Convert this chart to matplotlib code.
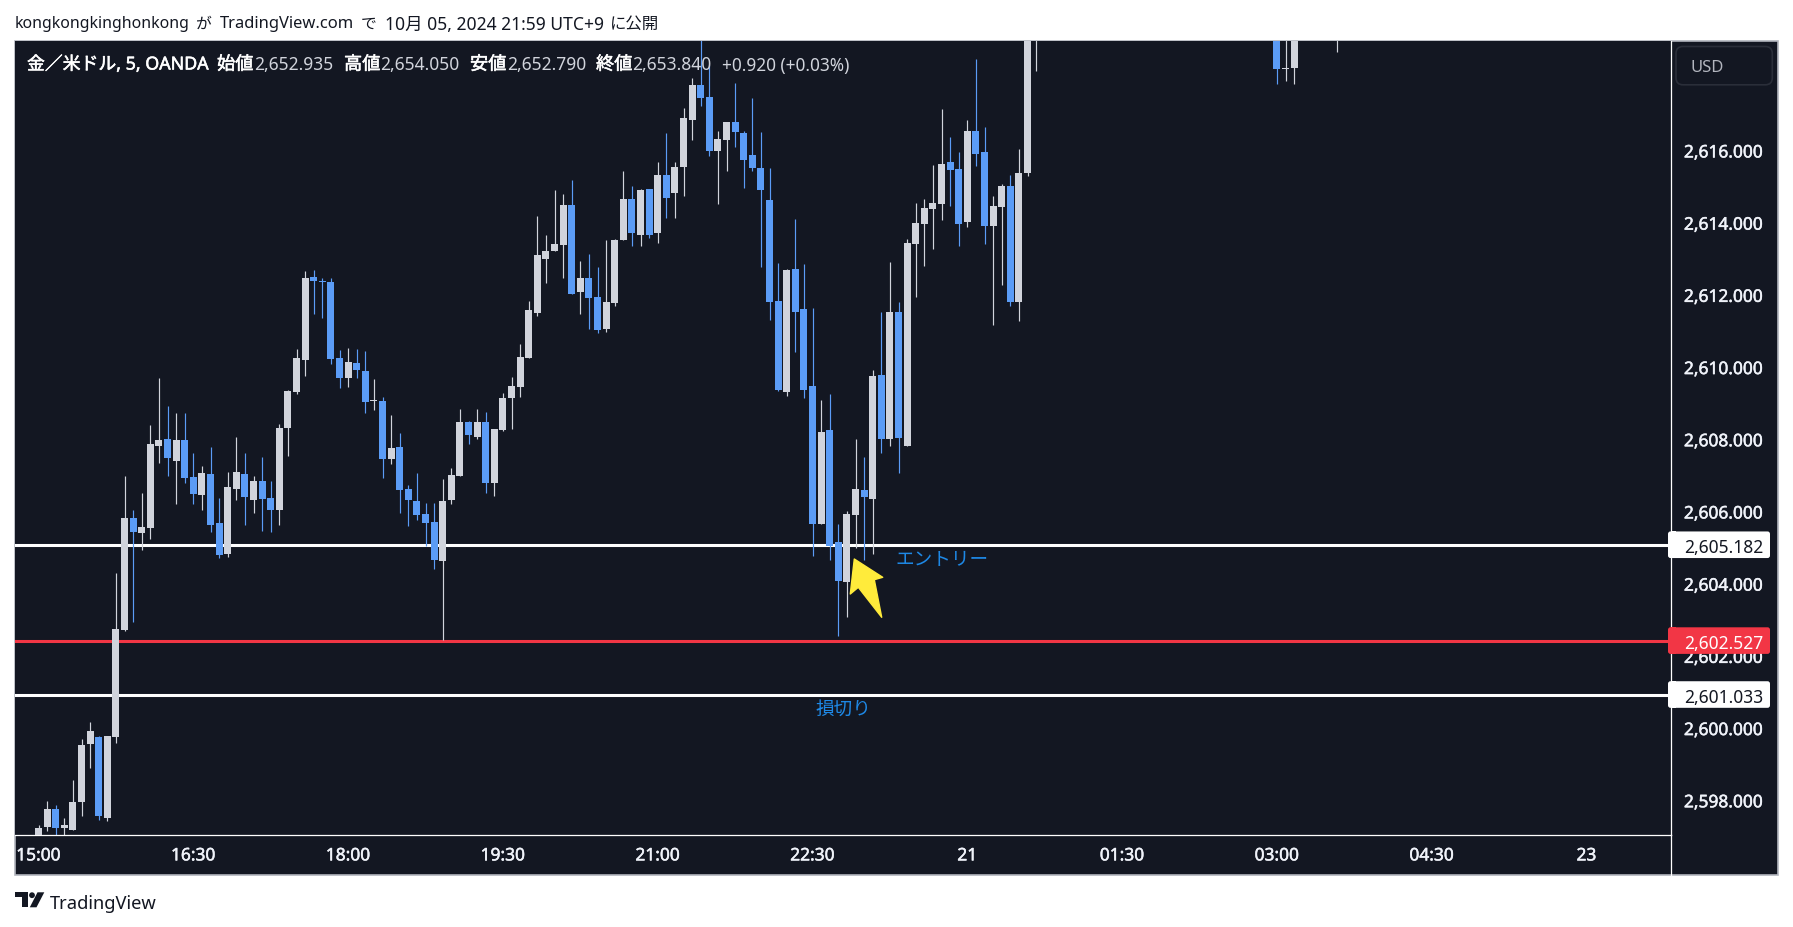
#!/usr/bin/env python3
# -*- coding: utf-8 -*-
"""TradingView style XAU/USD 5 min candle chart with entry and stop lines."""

import matplotlib

matplotlib.use("Agg")
import matplotlib.patheffects as pe
import matplotlib.pyplot as plt
from matplotlib.patches import Circle, FancyBboxPatch, Polygon, Rectangle
from matplotlib.transforms import ScaledTranslation

W, H = 1793, 928
FONTS = ["Noto Sans", "Noto Sans CJK JP"]

BG = "#131722"
GREY = "#D1D4DC"
BLUE = "#5B9CF6"
RED = "#F23645"

# bar number counted from 15:00; bars 117-143 and the rest sit above the view
bar_pos = list(range(117)) + [144, 145, 146, 151]

opens = [
    2597.00, 2597.36, 2597.85, 2597.33, 2597.27, 2598.05, 2599.66, 2599.85, 2597.61, 2599.85,
    2602.81, 2605.92, 2605.50, 2605.64, 2607.91, 2608.10, 2607.49, 2608.08, 2607.05, 2606.55,
    2607.13, 2605.78, 2604.92, 2606.72, 2607.13, 2606.41, 2606.94, 2606.47, 2606.14, 2608.41,
    2609.41, 2610.29, 2612.59, 2612.48, 2612.45, 2610.35, 2609.79, 2610.21, 2609.99, 2609.16,
    2609.16, 2607.55, 2607.88, 2606.72, 2606.39, 2606.03, 2605.80, 2604.72, 2606.41, 2607.08,
    2608.57, 2608.16, 2608.57, 2606.88, 2608.35, 2609.24, 2609.54, 2610.35, 2611.59, 2613.09,
    2613.31, 2613.48, 2614.58, 2612.18, 2612.56, 2612.04, 2611.16, 2611.87, 2613.62, 2614.75,
    2613.75, 2615.03, 2613.81, 2615.42, 2614.92, 2615.64, 2616.94, 2617.91, 2617.58, 2616.08,
    2616.39, 2616.88, 2616.58, 2615.97, 2615.61, 2614.72, 2611.93, 2609.40, 2612.81, 2611.70,
    2609.57, 2605.75, 2608.35, 2605.25, 2604.14, 2606.00, 2606.69, 2606.44, 2609.88, 2608.10,
    2611.62, 2607.91, 2613.50, 2614.06, 2614.47, 2614.61, 2615.78, 2615.58, 2614.11, 2616.64,
    2616.05, 2614.00, 2614.53, 2615.11, 2611.90, 2615.47, 2620.40,
    2620.50, 2618.36, 2618.38, 2620.00,
]
highs = [
    2597.41, 2598.08, 2597.97, 2597.61, 2598.66, 2599.79, 2600.26, 2599.88, 2599.88, 2604.39,
    2607.08, 2606.14, 2606.61, 2608.49, 2609.79, 2609.02, 2608.82, 2608.82, 2607.72, 2607.36,
    2607.88, 2606.47, 2607.19, 2608.16, 2607.72, 2607.08, 2607.60, 2606.94, 2608.52, 2609.46,
    2610.60, 2612.76, 2612.78, 2612.56, 2612.56, 2610.57, 2610.62, 2610.60, 2610.54, 2609.77,
    2609.27, 2608.77, 2608.27, 2606.83, 2607.16, 2606.33, 2606.33, 2607.00, 2607.30, 2608.93,
    2608.60, 2608.93, 2608.85, 2608.38, 2609.38, 2609.82, 2610.73, 2611.93, 2614.28, 2613.75,
    2615.00, 2614.89, 2615.28, 2613.03, 2613.23, 2612.87, 2613.62, 2613.64, 2615.53, 2615.11,
    2615.03, 2615.03, 2615.78, 2616.58, 2615.78, 2617.27, 2618.10, 2619.20, 2618.48, 2616.64,
    2616.88, 2617.97, 2616.64, 2617.55, 2616.61, 2615.61, 2612.98, 2612.81, 2614.20, 2612.95,
    2611.73, 2609.18, 2609.35, 2605.75, 2606.11, 2608.10, 2607.60, 2610.02, 2611.62, 2613.01,
    2611.90, 2613.64, 2614.64, 2614.75, 2615.69, 2617.24, 2616.47, 2616.05, 2616.94, 2618.63,
    2616.75, 2614.83, 2615.17, 2615.42, 2616.14, 2621.00, 2621.50,
    2621.00, 2620.50, 2621.00, 2621.00,
]
lows = [
    2596.90, 2597.24, 2597.00, 2597.00, 2597.27, 2597.66, 2598.99, 2597.55, 2597.52, 2599.68,
    2602.79, 2603.03, 2605.03, 2605.33, 2607.44, 2607.08, 2606.30, 2606.88, 2606.30, 2606.14,
    2605.53, 2604.81, 2604.84, 2606.41, 2605.72, 2606.05, 2605.56, 2605.53, 2605.72, 2607.63,
    2609.35, 2609.85, 2611.57, 2611.46, 2610.18, 2609.52, 2609.54, 2609.79, 2608.82, 2608.91,
    2607.02, 2607.41, 2606.05, 2605.69, 2605.86, 2605.14, 2604.50, 2602.53, 2606.30, 2607.08,
    2607.97, 2608.10, 2606.61, 2606.52, 2608.32, 2608.38, 2609.27, 2610.35, 2611.51, 2612.42,
    2613.31, 2612.56, 2612.12, 2611.57, 2611.15, 2611.04, 2611.08, 2611.79, 2613.62, 2613.45,
    2613.45, 2613.67, 2613.53, 2614.22, 2614.22, 2614.83, 2616.39, 2617.33, 2615.94, 2614.61,
    2615.53, 2616.19, 2615.06, 2615.53, 2612.87, 2611.40, 2609.43, 2609.29, 2610.51, 2609.24,
    2604.86, 2605.75, 2604.75, 2602.65, 2603.17, 2605.08, 2604.75, 2604.92, 2607.72, 2607.91,
    2607.16, 2607.91, 2612.04, 2612.90, 2613.37, 2614.17, 2614.56, 2613.45, 2613.98, 2615.67,
    2613.51, 2611.26, 2612.37, 2611.79, 2611.37, 2615.39, 2618.30,
    2617.94, 2618.02, 2617.94, 2618.82,
]
closes = [
    2597.33, 2597.85, 2597.33, 2597.41, 2598.05, 2599.63, 2600.02, 2597.66, 2599.88, 2602.84,
    2605.92, 2605.53, 2605.67, 2607.97, 2608.08, 2607.58, 2608.08, 2607.02, 2606.58, 2607.16,
    2605.72, 2604.89, 2606.77, 2607.19, 2606.50, 2606.94, 2606.44, 2606.14, 2608.41, 2609.43,
    2610.35, 2612.56, 2612.48, 2612.46, 2610.32, 2609.79, 2610.24, 2610.02, 2609.13, 2609.18,
    2607.55, 2607.85, 2606.69, 2606.41, 2606.00, 2605.78, 2604.75, 2606.39, 2607.11, 2608.57,
    2608.21, 2608.57, 2606.88, 2608.38, 2609.24, 2609.57, 2610.37, 2611.68, 2613.20, 2613.31,
    2613.50, 2614.58, 2612.12, 2612.56, 2612.01, 2611.12, 2611.90, 2613.62, 2614.75, 2613.81,
    2615.00, 2613.75, 2615.42, 2614.78, 2615.64, 2617.00, 2617.91, 2617.55, 2616.08, 2616.41,
    2616.88, 2616.61, 2615.83, 2615.61, 2615.00, 2611.90, 2609.46, 2612.79, 2611.62, 2609.46,
    2605.75, 2608.30, 2605.14, 2604.17, 2606.03, 2606.72, 2606.50, 2609.85, 2608.10, 2611.62,
    2608.13, 2613.53, 2614.09, 2614.50, 2614.64, 2615.72, 2615.56, 2614.06, 2616.64, 2616.00,
    2614.00, 2614.56, 2615.11, 2611.90, 2615.47, 2620.50, 2621.00,
    2618.35, 2618.38, 2620.50, 2620.50,
]

price_ticks = [2598, 2600, 2602, 2604, 2606, 2608, 2610, 2612, 2614, 2616]
time_tick_bars = [0, 18, 36, 54, 72, 90, 108, 126, 144, 162, 180]
time_tick_labels = ["15:00", "16:30", "18:00", "19:30", "21:00", "22:30", "21", "01:30", "03:00", "04:30", "23"]

level_prices = [2605.182, 2602.527, 2601.033]
level_labels = ["2,605.182", "2,602.527", "2,601.033"]
level_colors = ["#FFFFFF", RED, "#FFFFFF"]
level_text_colors = ["#131722", "#FFFFFF", "#131722"]

# x, text, size, colour
header_parts = [
    (15, "kongkongkinghonkong", 11.45),
    (195.5, "が", 11.4),
    (219.5, "TradingView.com", 11.9),
    (361, "で", 11.4),
    (385, "10月 05, 2024 21:59 UTC+9", 12.6),
    (609.5, "に公開", 11.8),
]
legend_parts = [
    (27, "金／米ドル, 5, OANDA", 12.85, "#FFFFFF"),
    (217, "始値", 13.1, "#FFFFFF"), (254, "2,652.935", 12.5, GREY),
    (344, "高値", 13.1, "#FFFFFF"), (380, "2,654.050", 12.5, GREY),
    (470, "安値", 13.1, "#FFFFFF"), (507, "2,652.790", 12.5, GREY),
    (596, "終値", 13.1, "#FFFFFF"), (632, "2,653.840", 12.5, GREY),
    (722, "+0.920 (+0.03%)", 12.4, GREY),
]

HEAVY = [pe.withStroke(linewidth=0.35, foreground="#F0F3FA")]


def main():
    fig = plt.figure(figsize=(W / 100, H / 100), dpi=100, facecolor="white")

    # pixel axes for the panel background, and one on top for labels
    bg = fig.add_axes([0, 0, 1, 1], zorder=0)
    bg.set_xlim(0, W)
    bg.set_ylim(H, 0)
    bg.axis("off")
    bg.add_patch(Rectangle((15, 42), 1763, 834, fc=BG, ec="#B2B5BE", lw=1.2))

    left, right, top, bottom = 15, 1670.6, 42, 835.6
    ax = fig.add_axes(
        [left / W, 1 - bottom / H, (right - left) / W, (bottom - top) / H],
        zorder=1,
        facecolor=BG,
    )
    ax.set_xlim((left - 38.5) / 8.6, (right - 38.5) / 8.6)
    ax.set_ylim(2597.153, 2619.136)

    for sp in ("top", "left"):
        ax.spines[sp].set_visible(False)
    for sp in ("bottom", "right"):
        ax.spines[sp].set_color("#FFFFFF")
        ax.spines[sp].set_linewidth(0.9)

    for val, col in zip(level_prices, level_colors):
        ax.axhline(val, color=col, lw=2.2, zorder=1.5)

    colors = [BLUE if c < o else GREY for o, c in zip(opens, closes)]
    ax.vlines(bar_pos, lows, highs, colors=colors, lw=0.85, zorder=2)
    body_bottom = [min(o, c) for o, c in zip(opens, closes)]
    body_height = [max(abs(o - c), 0.035) for o, c in zip(opens, closes)]
    ax.bar(bar_pos, body_height, width=0.81, bottom=body_bottom, color=colors, zorder=3, lw=0)

    ax.yaxis.tick_right()
    ax.set_yticks(price_ticks)
    ax.set_yticklabels([f"{p:,.3f}" for p in price_ticks], family=FONTS, fontsize=12.5, color="#F0F3FA")
    ax.set_xticks(time_tick_bars)
    ax.set_xticklabels(time_tick_labels, family=FONTS, fontsize=12.5, color="#F0F3FA")
    ax.tick_params(axis="y", length=0, pad=9.6)
    ax.tick_params(axis="x", length=0, pad=8.5)
    # price scale text sits a little above the grid value in the original
    lift = ScaledTranslation(0, 2.7 / 72, fig.dpi_scale_trans)
    for lab in ax.get_yticklabels():
        lab.set_transform(lab.get_transform() + lift)
        lab.set_path_effects(HEAVY)
    for lab in ax.get_xticklabels():
        lab.set_path_effects(HEAVY)

    over = fig.add_axes([0, 0, 1, 1], zorder=5)
    over.set_xlim(0, W)
    over.set_ylim(H, 0)
    over.axis("off")
    over.patch.set_alpha(0)

    # axis divider carries on through the time scale
    over.plot([right, right], [bottom, 876], color="#FFFFFF", lw=0.9)

    # price tags on the right axis
    for val, lab, col, tcol in zip(level_prices, level_labels, level_colors, level_text_colors):
        py = over.transData.inverted().transform(ax.transData.transform((0, val)))[1]
        over.add_patch(FancyBboxPatch(
            (1668, py - 13.3), 102, 26.6,
            boxstyle="round,pad=0,rounding_size=2.5", fc=col, ec="none",
        ))
        over.add_patch(Rectangle((1671, py - 13.3), 5, 26.6, fc=col, ec="none"))
        over.text(1684, py, lab, family=FONTS, fontsize=12.5, color=tcol, ha="left", va="center_baseline")

    # header and legend
    for x, txt, size in header_parts:
        over.text(x, 22.5, txt, family=FONTS, fontsize=size, color="#131722", va="center_baseline")
    for x, txt, size, col in legend_parts:
        t = over.text(x, 63.5, txt, family=FONTS, fontsize=size, color=col, va="center_baseline")
        if col == "#FFFFFF":
            t.set_path_effects([pe.withStroke(linewidth=0.4, foreground="#FFFFFF")])

    over.add_patch(FancyBboxPatch(
        (1676, 47.5), 96.3, 38.3,
        boxstyle="round,pad=0,rounding_size=7", fc=BG, ec="#2A2E39", lw=1.2,
    ))
    over.text(1690.5, 65.5, "USD", family=FONTS, fontsize=12, color="#B2B5BE", va="center_baseline")

    # hand drawn labels
    over.text(895, 558.5, "エントリー", family=["Noto Sans CJK JP"], fontsize=13.4, color="#1E88E5", va="center_baseline")
    over.text(815, 708, "損切り", family=["Noto Sans CJK JP"], fontsize=13.4, color="#1E88E5", va="center_baseline")
    over.add_patch(Polygon(
        [(854.3, 560), (882.7, 578.3), (874.3, 580.7), (881.7, 618.3), (858.3, 588.3), (850.3, 595)],
        closed=True, fc="#FFEB3B", ec="#FFEB3B", lw=1, joinstyle="round",
    ))

    # footer logo
    dark = "#131722"
    over.add_patch(Rectangle((15.3, 893.3), 12.5, 5, fc=dark, ec="none"))
    over.add_patch(Rectangle((21.5, 893.3), 6.3, 15, fc=dark, ec="none"))
    over.add_patch(Circle((32, 896.2), 2.9, fc=dark, ec="none"))
    over.add_patch(Polygon([(37.5, 893.3), (44.3, 893.3), (36.5, 908.3), (29.8, 908.3)], closed=True, fc=dark, ec="none"))
    over.text(49.5, 902, "TradingView", family=FONTS, fontsize=13.2, color=dark, va="center_baseline")

    fig.savefig("out.png", dpi=100, facecolor="white")
    plt.close(fig)


if __name__ == "__main__":
    main()
